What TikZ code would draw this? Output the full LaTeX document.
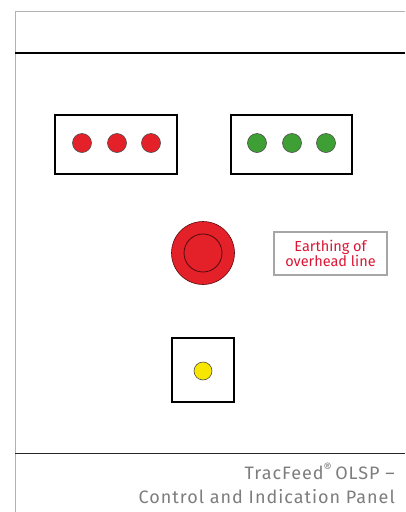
\documentclass[tikz,border=0pt]{standalone}
\usepackage{fontspec}
\setmainfont{Fira Sans}
\usepackage{tikz}
\definecolor{lampred}{RGB}{228,32,40}
\definecolor{lampgreen}{RGB}{62,160,52}
\definecolor{lampyellow}{RGB}{246,230,0}
\definecolor{textred}{RGB}{218,22,52}
\definecolor{framegray}{RGB}{178,178,178}
\definecolor{footgray}{RGB}{125,125,125}
\tikzset{
  lampbox/.style={draw=black,line width=2.6pt,inner sep=0pt},
  lamp/.style={circle,draw=black!70,line width=0.6pt,minimum size=19pt,inner sep=0pt},
  footer/.style={anchor=base east,text=footgray,inner sep=0pt,
    font=\fontsize{18}{24}\selectfont\addfontfeatures{LetterSpace=5.5}},
}
\begin{document}
\begin{tikzpicture}[x=1pt,y=-1pt]
\useasboundingbox (0,0) rectangle (405,512);
% panel frame
\draw [framegray,line width=1pt] (15,512)--(15,11)--(405,11);
\draw [black,line width=1.3pt] (15,53)--(405,53);
\draw [black!85,line width=1pt] (15,453)--(405,453);
% indication boxes
\node [lampbox,minimum width=122pt,minimum height=59pt] (redbox) at (116,144.5) {};
\node [lampbox,minimum width=121pt,minimum height=59pt] (greenbox) at (291.5,144.5) {};
\foreach \i/\xx in {1/82,2/117,3/151}
  \node [lamp,fill=lampred] (red\i) at (\xx,143) {};
\foreach \i/\xx in {1/257,2/292,3/326}
  \node [lamp,fill=lampgreen] (green\i) at (\xx,143) {};
% earthing button
\node [circle,draw=black!60!lampred,line width=0.6pt,fill=lampred,minimum size=63pt,inner sep=0pt] (button) at (203,253) {};
\node [circle,draw=black!65!lampred,line width=0.8pt,minimum size=38pt,inner sep=0pt] (buttonin) at (button) {};
\node [draw=black!90,double=black!35,double distance=1.2pt,line width=0.8pt,
  minimum width=113pt,minimum height=43pt,align=center,text=textred,inner sep=0pt,
  font=\fontsize{14.5}{14.5}\selectfont] (earthlabel) at (330.5,253.5) {Earthing of\\overhead line};
% yellow lamp
\node [lampbox,minimum width=62pt,minimum height=64pt] (yellowbox) at (203,370) {};
\node [lamp,fill=lampyellow,minimum size=18pt] (yellow) at (203,371) {};
% footer
\node [footer] (title) at (395,479) {TracFeed\textsuperscript{\textregistered}\,OLSP --};
\node [footer] (subtitle) at (395,503) {Control and Indication Panel};
\end{tikzpicture}
\end{document}
